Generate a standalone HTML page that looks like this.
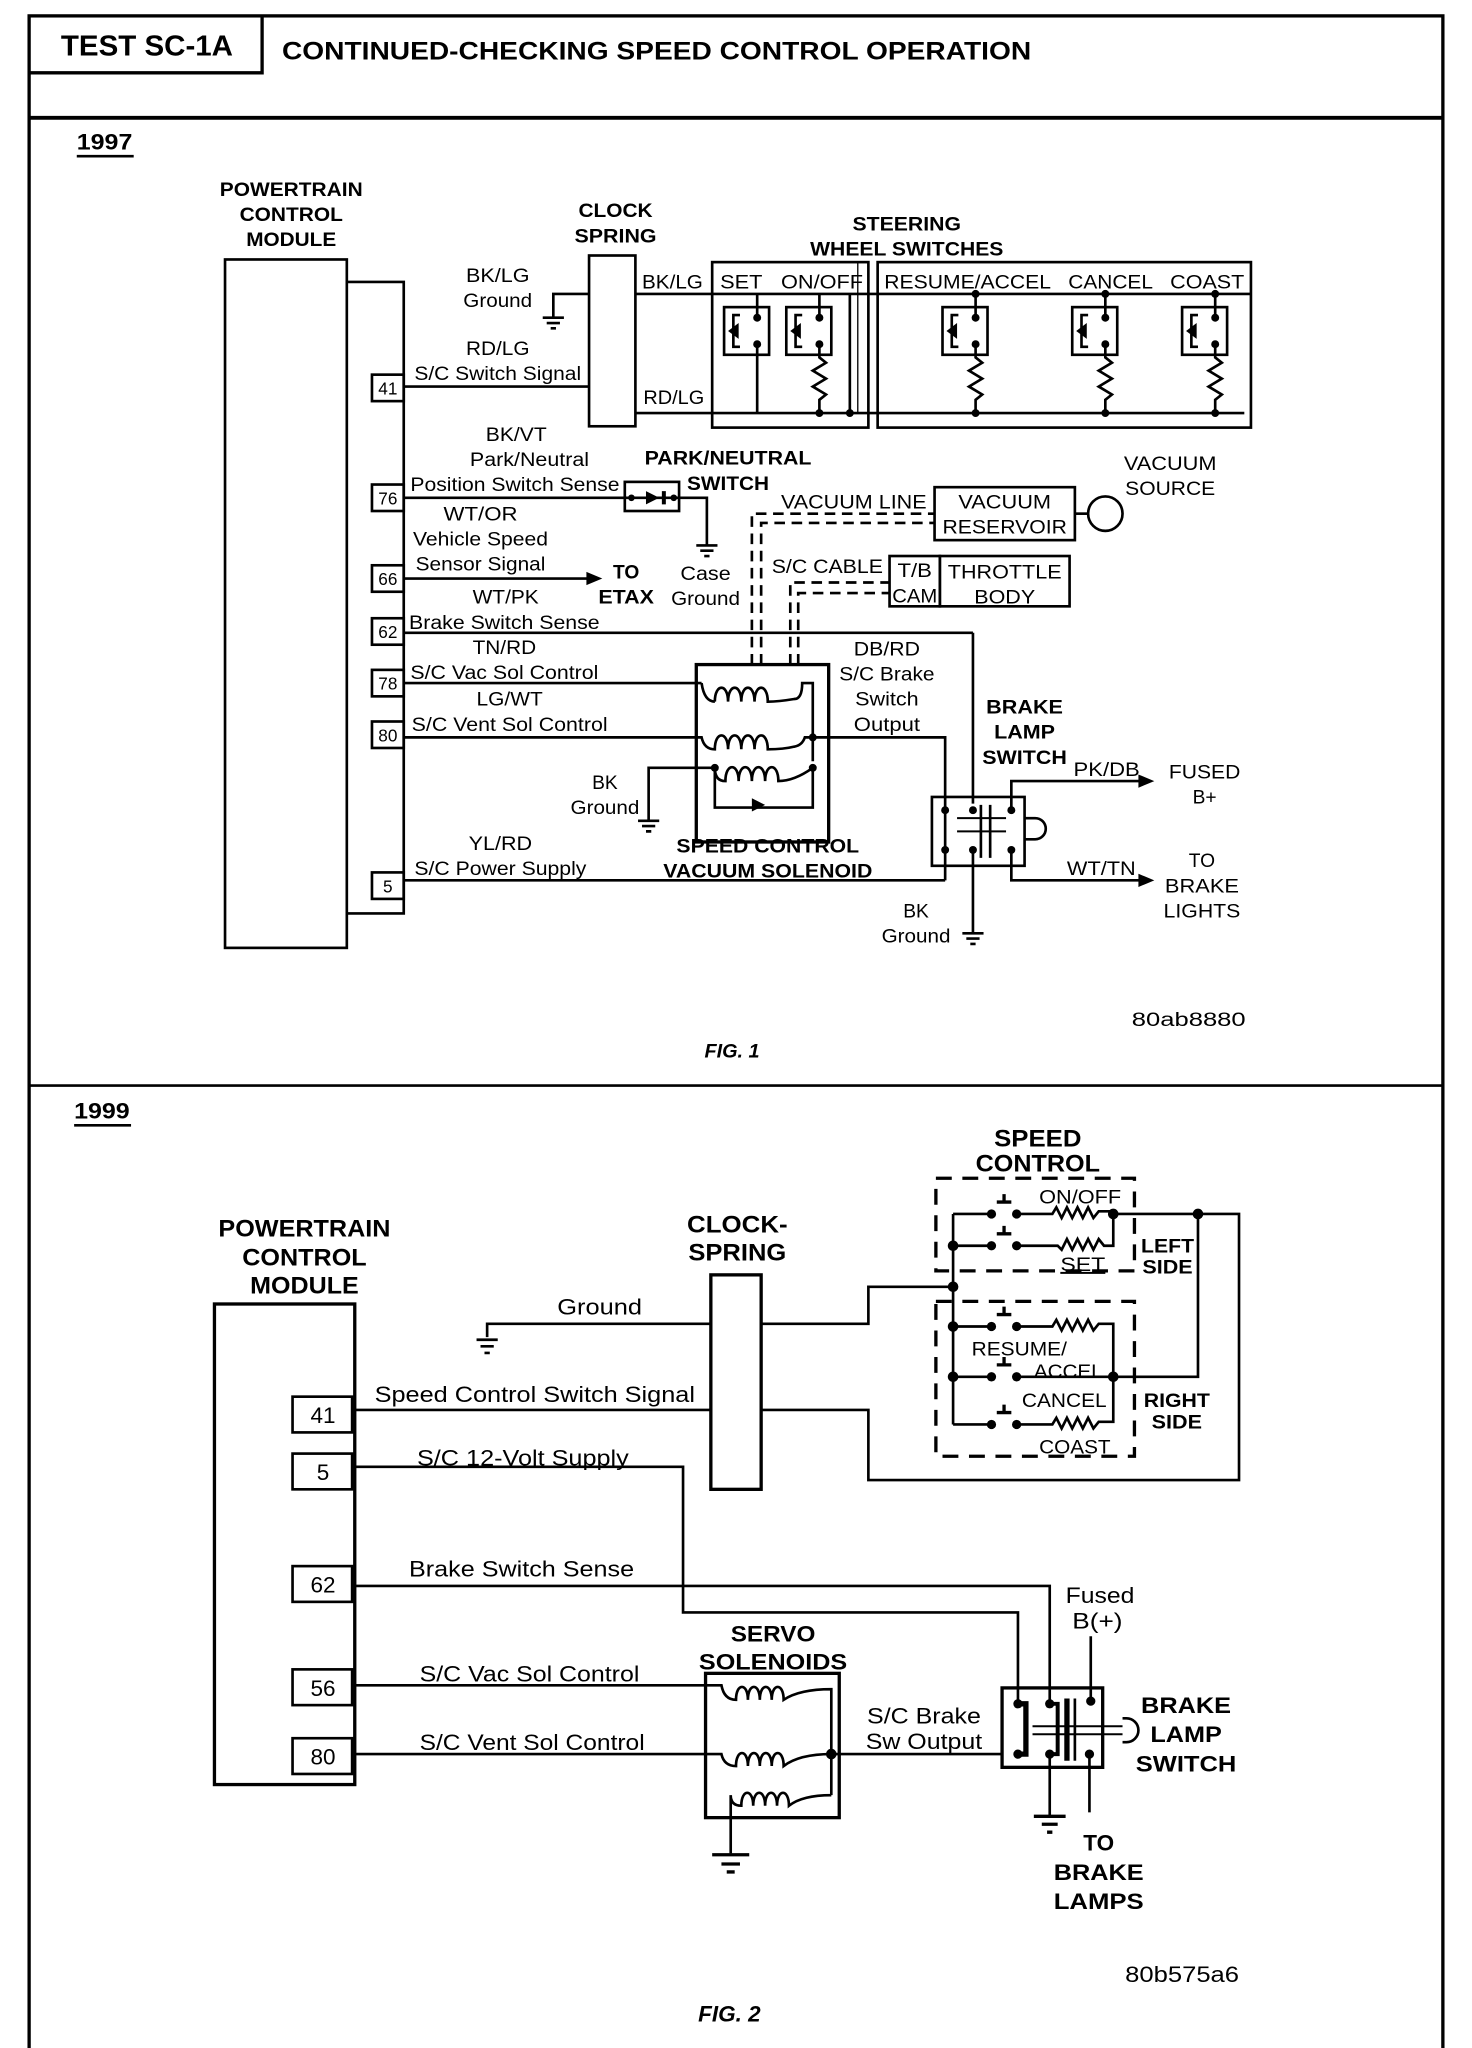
<!DOCTYPE html>
<html><head><meta charset="utf-8"><style>
html,body{margin:0;padding:0;background:#fff}
svg{display:block}
text{font-family:"Liberation Sans",sans-serif;fill:#000}
.b{font-weight:bold}
</style></head><body>
<svg width="1472" height="2048" viewBox="0 0 1112 1547" preserveAspectRatio="none" xmlns="http://www.w3.org/2000/svg">
<rect width="1112" height="1547" fill="#fff"/>
<g fill="none" stroke="#000" stroke-width="2">
<!-- frame -->
<rect x="22" y="12" width="1068" height="1538" stroke-width="2.5"/>
<line x1="22" y1="89" x2="1090" y2="89" stroke-width="3"/>
<line x1="22" y1="820" x2="1090" y2="820" stroke-width="2"/>
<path d="M22 55 H198 V12" stroke-width="2.5"/>
</g>
<text x="46" y="42" class="b" font-size="22" textLength="130" lengthAdjust="spacingAndGlyphs">TEST SC-1A</text>
<text x="213" y="45" class="b" font-size="19" textLength="566" lengthAdjust="spacingAndGlyphs">CONTINUED-CHECKING SPEED CONTROL OPERATION</text>
<text x="58" y="113" class="b" font-size="17" textLength="42" lengthAdjust="spacingAndGlyphs">1997</text>
<line x1="58" y1="118" x2="101" y2="118" stroke="#000" stroke-width="2"/>

<!-- ========== FIG 1 ========== -->
<g fill="none" stroke="#000" stroke-width="2">
<rect x="170" y="196" width="92" height="520"/>
<path d="M262 213 H305 V690 H262"/>
<rect x="281" y="283" width="24" height="20"/>
<rect x="281" y="366" width="24" height="20"/>
<rect x="281" y="427" width="24" height="20"/>
<rect x="281" y="467" width="24" height="20"/>
<rect x="281" y="506" width="24" height="20"/>
<rect x="281" y="545" width="24" height="20"/>
<rect x="281" y="659" width="24" height="20"/>
<!-- clock spring -->
<rect x="445" y="193" width="35" height="129"/>
<path d="M445 222 H418 V240"/>
<path d="M410 240 H426 M413 244 H423 M416 248 H420"/>
<line x1="305" y1="292" x2="445" y2="292"/>
<line x1="480" y1="222" x2="945" y2="222"/>
<line x1="480" y1="312" x2="940" y2="312"/>
<!-- steering boxes -->
<rect x="538" y="198" width="118" height="125"/>
<rect x="663" y="198" width="282" height="125"/>
<line x1="642" y1="222" x2="642" y2="312"/>
<line x1="648" y1="198" x2="648" y2="312" stroke-width="1"/>
</g>
<g fill="#000"><circle cx="642" cy="312" r="3"/></g>
<!-- switch units -->
<g fill="none" stroke="#000" stroke-width="2">
<g transform="translate(547,232)"><rect width="34" height="36"/><path d="M12 6 H7 V30 H12"/><line x1="25" y1="-10" x2="25" y2="8"/><line x1="25" y1="28" x2="25" y2="80"/></g>
<g transform="translate(594,232)"><rect width="34" height="36"/><path d="M12 6 H7 V30 H12"/><line x1="25" y1="-10" x2="25" y2="8"/><path d="M25 28 V38 l5 4 -10 6 10 6 -10 6 10 6 -5 4 V80"/></g>
<g transform="translate(712,232)"><rect width="34" height="36"/><path d="M12 6 H7 V30 H12"/><line x1="25" y1="-10" x2="25" y2="8"/><path d="M25 28 V38 l5 4 -10 6 10 6 -10 6 10 6 -5 4 V80"/></g>
<g transform="translate(810,232)"><rect width="34" height="36"/><path d="M12 6 H7 V30 H12"/><line x1="25" y1="-10" x2="25" y2="8"/><path d="M25 28 V38 l5 4 -10 6 10 6 -10 6 10 6 -5 4 V80"/></g>
<g transform="translate(893,232)"><rect width="34" height="36"/><path d="M12 6 H7 V30 H12"/><line x1="25" y1="-10" x2="25" y2="8"/><path d="M25 28 V38 l5 4 -10 6 10 6 -10 6 10 6 -5 4 V80"/></g>
</g>
<g fill="#000">
<g transform="translate(547,232)"><circle cx="25" cy="8" r="3"/><circle cx="25" cy="28" r="3"/><path d="M3 18 L11 12 V24Z"/></g>
<g transform="translate(594,232)"><circle cx="25" cy="8" r="3"/><circle cx="25" cy="28" r="3"/><circle cx="25" cy="80" r="3"/><path d="M3 18 L11 12 V24Z"/></g>
<g transform="translate(712,232)"><circle cx="25" cy="8" r="3"/><circle cx="25" cy="28" r="3"/><circle cx="25" cy="80" r="3"/><circle cx="25" cy="-10" r="3"/><path d="M3 18 L11 12 V24Z"/></g>
<g transform="translate(810,232)"><circle cx="25" cy="8" r="3"/><circle cx="25" cy="28" r="3"/><circle cx="25" cy="80" r="3"/><circle cx="25" cy="-10" r="3"/><path d="M3 18 L11 12 V24Z"/></g>
<g transform="translate(893,232)"><circle cx="25" cy="8" r="3"/><circle cx="25" cy="28" r="3"/><circle cx="25" cy="80" r="3"/><circle cx="25" cy="-10" r="3"/><path d="M3 18 L11 12 V24Z"/></g>
</g>
<!-- park neutral -->
<g fill="none" stroke="#000" stroke-width="2">
<line x1="305" y1="376" x2="472" y2="376"/>
<rect x="472" y="364" width="41" height="22"/>
<path d="M472 376 H534 V412"/>
<path d="M526 412 H542 M529 416 H539 M532 420 H536"/>
<line x1="305" y1="437" x2="447" y2="437"/>
<line x1="305" y1="478" x2="735" y2="478"/>
<line x1="735" y1="478" x2="735" y2="607"/>
<!-- solenoid -->
<rect x="526" y="502" width="100" height="134" stroke-width="2.5"/>
<path d="M305 516 H530 M530 516 Q532 530 540 530 M540 530 c0-14 10-14 10 0 c0-14 10-14 10 0 c0-14 10-14 10 0 c0-14 10-14 10 0 Q588 530 600 528 Q606 528 606 516 H614 V575"/>
<path d="M305 557 H530 Q532 566 540 566 c0-14 10-14 10 0 c0-14 10-14 10 0 c0-14 10-14 10 0 c0-14 10-14 10 0 Q592 566 600 564 Q606 563 608 557 H714 V610"/>
<path d="M540 580 Q540 590 548 590 c0-14 10-14 10 0 c0-14 10-14 10 0 c0-14 10-14 10 0 c0-14 10-14 10 0 Q600 590 614 580"/>
<path d="M540 580 V610 H614 V580"/>
<path d="M540 580 H490 V620"/>
<path d="M482 620 H498 M485 624 H495 M488 628 H492"/>
<line x1="305" y1="665" x2="714" y2="665"/>
<line x1="714" y1="665" x2="714" y2="640"/>
<!-- vacuum dashed -->
<path d="M568 502 V388 H706" stroke-dasharray="8 5"/>
<path d="M575 502 V395 H706" stroke-dasharray="8 5"/>
<path d="M597 502 V440 H672" stroke-dasharray="8 5"/>
<path d="M603 502 V448 H672" stroke-dasharray="8 5"/>
<rect x="706" y="368" width="106" height="40"/>
<line x1="812" y1="388" x2="822" y2="388"/>
<circle cx="835" cy="388" r="13"/>
<rect x="672" y="420" width="38" height="38"/>
<rect x="710" y="420" width="98" height="38"/>
<!-- brake lamp switch -->
<rect x="704" y="602" width="70" height="52"/>
<path d="M714 610 V642"/>
<path d="M723 618 H760 M723 628 H760" stroke-width="1.5"/>
<path d="M741 608 V648 M748 608 V648" stroke-width="2"/>
<path d="M774 618 h8 a8 8 0 0 1 0 16 h-8"/>
<path d="M764 610 V590 H862"/>
<path d="M764 640 V665 H862"/>
<path d="M735 640 V705"/>
<path d="M727 705 H743 M730 709 H740 M733 713 H737"/>
</g>
<g fill="#000">
<path d="M455 437 L443 432 V442Z"/>
<path d="M498 376 L488 371 V381Z M500 371 h3 v10 h-3z"/>
<circle cx="477" cy="376" r="2.5"/><circle cx="509" cy="376" r="2.5"/>
<path d="M578 608 L568 603 V613Z"/>
<circle cx="614" cy="557" r="3"/><circle cx="614" cy="580" r="3"/><circle cx="540" cy="580" r="3"/>
<circle cx="714" cy="612" r="3"/><circle cx="735" cy="612" r="3"/><circle cx="764" cy="612" r="3"/>
<circle cx="714" cy="642" r="3"/><circle cx="735" cy="642" r="3"/><circle cx="764" cy="642" r="3"/>
<path d="M872 590 L860 585 V595Z"/><path d="M872 665 L860 660 V670Z"/>
</g>
<g font-size="14.5">
<text x="220" y="148" class="b" text-anchor="middle" font-size="15" textLength="108" lengthAdjust="spacingAndGlyphs">POWERTRAIN</text>
<text x="220" y="167" class="b" text-anchor="middle" font-size="15" textLength="78" lengthAdjust="spacingAndGlyphs">CONTROL</text>
<text x="220" y="186" class="b" text-anchor="middle" font-size="15" textLength="68" lengthAdjust="spacingAndGlyphs">MODULE</text>
<text x="465" y="164" class="b" text-anchor="middle" font-size="15" textLength="56" lengthAdjust="spacingAndGlyphs">CLOCK</text>
<text x="465" y="183" class="b" text-anchor="middle" font-size="15" textLength="62" lengthAdjust="spacingAndGlyphs">SPRING</text>
<text x="685" y="174" class="b" text-anchor="middle" font-size="15" textLength="82" lengthAdjust="spacingAndGlyphs">STEERING</text>
<text x="685" y="193" class="b" text-anchor="middle" font-size="15" textLength="146" lengthAdjust="spacingAndGlyphs">WHEEL SWITCHES</text>
<text x="376" y="213" text-anchor="middle" textLength="48" lengthAdjust="spacingAndGlyphs">BK/LG</text>
<text x="376" y="232" text-anchor="middle" textLength="52" lengthAdjust="spacingAndGlyphs">Ground</text>
<text x="376" y="268" text-anchor="middle" textLength="48" lengthAdjust="spacingAndGlyphs">RD/LG</text>
<text x="376" y="287" text-anchor="middle" textLength="126" lengthAdjust="spacingAndGlyphs">S/C Switch Signal</text>
<text x="508" y="218" text-anchor="middle" textLength="46" lengthAdjust="spacingAndGlyphs">BK/LG</text>
<text x="509" y="305" text-anchor="middle" textLength="46" lengthAdjust="spacingAndGlyphs">RD/LG</text>
<text x="544" y="218" textLength="32" lengthAdjust="spacingAndGlyphs">SET</text>
<text x="590" y="218" textLength="62" lengthAdjust="spacingAndGlyphs">ON/OFF</text>
<text x="668" y="218" textLength="126" lengthAdjust="spacingAndGlyphs">RESUME/ACCEL</text>
<text x="807" y="218" textLength="64" lengthAdjust="spacingAndGlyphs">CANCEL</text>
<text x="884" y="218" textLength="56" lengthAdjust="spacingAndGlyphs">COAST</text>
<text x="293" y="298" text-anchor="middle" font-size="13">41</text>
<text x="293" y="381" text-anchor="middle" font-size="13">76</text>
<text x="293" y="442" text-anchor="middle" font-size="13">66</text>
<text x="293" y="482" text-anchor="middle" font-size="13">62</text>
<text x="293" y="521" text-anchor="middle" font-size="13">78</text>
<text x="293" y="560" text-anchor="middle" font-size="13">80</text>
<text x="293" y="674" text-anchor="middle" font-size="13">5</text>
<text x="390" y="333" text-anchor="middle" textLength="46" lengthAdjust="spacingAndGlyphs">BK/VT</text>
<text x="400" y="352" text-anchor="middle" textLength="90" lengthAdjust="spacingAndGlyphs">Park/Neutral</text>
<text x="389" y="371" text-anchor="middle" textLength="158" lengthAdjust="spacingAndGlyphs">Position Switch Sense</text>
<text x="550" y="351" class="b" text-anchor="middle" textLength="126" lengthAdjust="spacingAndGlyphs">PARK/NEUTRAL</text>
<text x="550" y="370" class="b" text-anchor="middle" textLength="62" lengthAdjust="spacingAndGlyphs">SWITCH</text>
<text x="363" y="393" text-anchor="middle" textLength="56" lengthAdjust="spacingAndGlyphs">WT/OR</text>
<text x="363" y="412" text-anchor="middle" textLength="102" lengthAdjust="spacingAndGlyphs">Vehicle Speed</text>
<text x="363" y="431" text-anchor="middle" textLength="98" lengthAdjust="spacingAndGlyphs">Sensor Signal</text>
<text x="473" y="437" class="b" text-anchor="middle">TO</text>
<text x="473" y="456" class="b" text-anchor="middle" textLength="42" lengthAdjust="spacingAndGlyphs">ETAX</text>
<text x="533" y="438" text-anchor="middle" textLength="38" lengthAdjust="spacingAndGlyphs">Case</text>
<text x="533" y="457" text-anchor="middle" textLength="52" lengthAdjust="spacingAndGlyphs">Ground</text>
<text x="382" y="456" text-anchor="middle" textLength="50" lengthAdjust="spacingAndGlyphs">WT/PK</text>
<text x="381" y="475" text-anchor="middle" textLength="144" lengthAdjust="spacingAndGlyphs">Brake Switch Sense</text>
<text x="381" y="494" text-anchor="middle" textLength="48" lengthAdjust="spacingAndGlyphs">TN/RD</text>
<text x="381" y="513" text-anchor="middle" textLength="142" lengthAdjust="spacingAndGlyphs">S/C Vac Sol Control</text>
<text x="385" y="533" text-anchor="middle" textLength="50" lengthAdjust="spacingAndGlyphs">LG/WT</text>
<text x="385" y="552" text-anchor="middle" textLength="148" lengthAdjust="spacingAndGlyphs">S/C Vent Sol Control</text>
<text x="645" y="384" text-anchor="middle" textLength="110" lengthAdjust="spacingAndGlyphs">VACUUM LINE</text>
<text x="759" y="384" text-anchor="middle" textLength="70" lengthAdjust="spacingAndGlyphs">VACUUM</text>
<text x="759" y="403" text-anchor="middle" textLength="94" lengthAdjust="spacingAndGlyphs">RESERVOIR</text>
<text x="884" y="355" text-anchor="middle" textLength="70" lengthAdjust="spacingAndGlyphs">VACUUM</text>
<text x="884" y="374" text-anchor="middle" textLength="68" lengthAdjust="spacingAndGlyphs">SOURCE</text>
<text x="625" y="433" text-anchor="middle" textLength="84" lengthAdjust="spacingAndGlyphs">S/C CABLE</text>
<text x="691" y="436" text-anchor="middle" textLength="26" lengthAdjust="spacingAndGlyphs">T/B</text>
<text x="691" y="455" text-anchor="middle" textLength="34" lengthAdjust="spacingAndGlyphs">CAM</text>
<text x="759" y="437" text-anchor="middle" textLength="86" lengthAdjust="spacingAndGlyphs">THROTTLE</text>
<text x="759" y="456" text-anchor="middle" textLength="46" lengthAdjust="spacingAndGlyphs">BODY</text>
<text x="670" y="495" text-anchor="middle" textLength="50" lengthAdjust="spacingAndGlyphs">DB/RD</text>
<text x="670" y="514" text-anchor="middle" textLength="72" lengthAdjust="spacingAndGlyphs">S/C Brake</text>
<text x="670" y="533" text-anchor="middle" textLength="48" lengthAdjust="spacingAndGlyphs">Switch</text>
<text x="670" y="552" text-anchor="middle" textLength="50" lengthAdjust="spacingAndGlyphs">Output</text>
<text x="774" y="539" class="b" text-anchor="middle" textLength="58" lengthAdjust="spacingAndGlyphs">BRAKE</text>
<text x="774" y="558" class="b" text-anchor="middle" textLength="46" lengthAdjust="spacingAndGlyphs">LAMP</text>
<text x="774" y="577" class="b" text-anchor="middle" textLength="64" lengthAdjust="spacingAndGlyphs">SWITCH</text>
<text x="836" y="586" text-anchor="middle" textLength="50" lengthAdjust="spacingAndGlyphs">PK/DB</text>
<text x="910" y="588" text-anchor="middle" textLength="54" lengthAdjust="spacingAndGlyphs">FUSED</text>
<text x="910" y="607" text-anchor="middle">B+</text>
<text x="832" y="661" text-anchor="middle" textLength="52" lengthAdjust="spacingAndGlyphs">WT/TN</text>
<text x="908" y="655" text-anchor="middle">TO</text>
<text x="908" y="674" text-anchor="middle" textLength="56" lengthAdjust="spacingAndGlyphs">BRAKE</text>
<text x="908" y="693" text-anchor="middle" textLength="58" lengthAdjust="spacingAndGlyphs">LIGHTS</text>
<text x="692" y="693" text-anchor="middle">BK</text>
<text x="692" y="712" text-anchor="middle" textLength="52" lengthAdjust="spacingAndGlyphs">Ground</text>
<text x="457" y="596" text-anchor="middle">BK</text>
<text x="457" y="615" text-anchor="middle" textLength="52" lengthAdjust="spacingAndGlyphs">Ground</text>
<text x="378" y="642" text-anchor="middle" textLength="48" lengthAdjust="spacingAndGlyphs">YL/RD</text>
<text x="378" y="661" text-anchor="middle" textLength="130" lengthAdjust="spacingAndGlyphs">S/C Power Supply</text>
<text x="580" y="644" class="b" text-anchor="middle" textLength="138" lengthAdjust="spacingAndGlyphs">SPEED CONTROL</text>
<text x="580" y="663" class="b" text-anchor="middle" textLength="158" lengthAdjust="spacingAndGlyphs">VACUUM SOLENOID</text>
<text x="898" y="775" text-anchor="middle" font-size="15" textLength="86" lengthAdjust="spacingAndGlyphs">80ab8880</text>
<text x="553" y="799" class="b" font-style="italic" text-anchor="middle" font-size="15">FIG. 1</text>
</g>

<!-- ========== FIG 2 ========== -->
<text x="56" y="845" class="b" font-size="17" textLength="42" lengthAdjust="spacingAndGlyphs">1999</text>
<line x1="56" y1="850" x2="99" y2="850" stroke="#000" stroke-width="2"/>
<g fill="none" stroke="#000" stroke-width="2">
<rect x="162" y="985" width="106" height="363" stroke-width="2.5"/>
<rect x="221" y="1055" width="45" height="27"/>
<rect x="221" y="1098" width="45" height="27"/>
<rect x="221" y="1183" width="45" height="27"/>
<rect x="221" y="1261" width="45" height="27"/>
<rect x="221" y="1313" width="45" height="27"/>
<rect x="537" y="963" width="38" height="162" stroke-width="2.5"/>
<path d="M537 1000 H368 V1010"/>
<path d="M360 1012 H376 M363 1017 H373 M366 1022 H370"/>
<line x1="268" y1="1065" x2="537" y2="1065"/>
<path d="M268 1108 H516 V1218 H769 V1287"/>
<path d="M268 1198 H793 V1287"/>
<path d="M268 1273 H533"/>
<path d="M268 1325 H533"/>
<!-- clock spring right -->
<path d="M575 1000 H656 V972 H720"/>
<path d="M575 1065 H656 V1118 H936 V917 H841"/>
<!-- speed control dashed boxes -->
<rect x="707" y="890" width="150" height="70" stroke-dasharray="12 8" stroke-width="2.5"/>
<rect x="707" y="983" width="150" height="117" stroke-dasharray="12 8" stroke-width="2.5"/>
<!-- bus -->
<line x1="720" y1="917" x2="720" y2="1076"/>
<path d="M720 917 H749 M768 917 H795 l3 -5 4 8 4 -8 4 8 4 -8 4 8 4 -8 4 8 4 -5 H841 V941 H834 l-4 -5 -4 8 -4 -8 -4 8 -4 -8 -4 8 -4 -8 -4 8 -3 -3 H768 M749 941 H720"/>
<path d="M720 1002 H749 M768 1002 H795 l3 -5 4 8 4 -8 4 8 4 -8 4 8 4 -8 4 8 4 -5 H841 V1040 H905 V917"/>
<path d="M720 1040 H749 M768 1040 H841"/>
<path d="M720 1076 H749 M768 1076 H795 l3 -5 4 8 4 -8 4 8 4 -8 4 8 4 -8 4 8 4 -5 H841 V1040"/>
<path d="M753 908 H764 M758.5 908 V902 M753 932 H764 M758.5 932 V926 M753 993 H764 M758.5 993 V987 M753 1031 H764 M758.5 1031 V1025 M753 1067 H764 M758.5 1067 V1061" stroke-width="2.5"/>
<!-- servo solenoids -->
<rect x="533" y="1264" width="101" height="109" stroke-width="2.5"/>
<path d="M533 1273 H545 Q547 1284 556 1284 c0-13 9-13 9 0 c0-13 9-13 9 0 c0-13 9-13 9 0 c0-13 9-13 9 0 Q604 1276 628 1276 V1356"/>
<path d="M533 1325 H545 Q547 1334 556 1334 c0-13 9-13 9 0 c0-13 9-13 9 0 c0-13 9-13 9 0 c0-13 9-13 9 0 Q604 1325 628 1325 H757"/>
<path d="M552 1400 V1356 Q552 1364 560 1364 c0-13 9-13 9 0 c0-13 9-13 9 0 c0-13 9-13 9 0 c0-13 9-13 9 0 Q606 1356 628 1356"/>
<path d="M538 1401 H566 M545 1408 H559 M549 1414 H555" stroke-width="2.5"/>
<!-- brake lamp switch fig2 -->
<rect x="757" y="1275" width="76" height="60" stroke-width="2.5"/>
<path d="M769 1287 h6 v38 h-6" stroke-width="4"/>
<path d="M793 1287 h6 v38 h-6" stroke-width="3"/>
<path d="M806 1283 V1330" stroke-width="4"/>
<path d="M812 1283 V1330" stroke-width="2"/>
<path d="M780 1304 H848 M780 1310 H848" stroke-width="1.5"/>
<path d="M848 1298 h3 a9 9 0 0 1 0 18 h-3"/>
<path d="M824 1236 V1285"/>
<path d="M793 1325 V1371"/>
<path d="M781 1372 H805 M787 1378 H799 M791 1384 H795" stroke-width="2.5"/>
<path d="M823 1325 V1369"/>
</g>
<g fill="#000">
<circle cx="749" cy="917" r="3.5"/><circle cx="768" cy="917" r="3.5"/>
<circle cx="749" cy="941" r="3.5"/><circle cx="768" cy="941" r="3.5"/>
<circle cx="749" cy="1002" r="3.5"/><circle cx="768" cy="1002" r="3.5"/>
<circle cx="749" cy="1040" r="3.5"/><circle cx="768" cy="1040" r="3.5"/>
<circle cx="749" cy="1076" r="3.5"/><circle cx="768" cy="1076" r="3.5"/>
<circle cx="720" cy="941" r="4"/><circle cx="720" cy="972" r="4"/><circle cx="720" cy="1002" r="4"/><circle cx="720" cy="1040" r="4"/>
<circle cx="841" cy="917" r="4"/><circle cx="905" cy="917" r="4"/><circle cx="841" cy="1040" r="4"/>
<circle cx="628" cy="1325" r="4"/>
<circle cx="769" cy="1287" r="3.5"/><circle cx="793" cy="1287" r="3.5"/><circle cx="824" cy="1285" r="3.5"/>
<circle cx="769" cy="1325" r="3.5"/><circle cx="793" cy="1325" r="3.5"/><circle cx="823" cy="1325" r="3.5"/>
</g>
<g font-size="17">
<text x="230" y="934" class="b" text-anchor="middle" font-size="18" textLength="130" lengthAdjust="spacingAndGlyphs">POWERTRAIN</text>
<text x="230" y="956" class="b" text-anchor="middle" font-size="18" textLength="94" lengthAdjust="spacingAndGlyphs">CONTROL</text>
<text x="230" y="977" class="b" text-anchor="middle" font-size="18" textLength="82" lengthAdjust="spacingAndGlyphs">MODULE</text>
<text x="557" y="931" class="b" text-anchor="middle" font-size="18" textLength="76" lengthAdjust="spacingAndGlyphs">CLOCK-</text>
<text x="557" y="952" class="b" text-anchor="middle" font-size="18" textLength="74" lengthAdjust="spacingAndGlyphs">SPRING</text>
<text x="784" y="866" class="b" text-anchor="middle" font-size="18" textLength="66" lengthAdjust="spacingAndGlyphs">SPEED</text>
<text x="784" y="885" class="b" text-anchor="middle" font-size="18" textLength="94" lengthAdjust="spacingAndGlyphs">CONTROL</text>
<text x="453" y="993" text-anchor="middle" textLength="64" lengthAdjust="spacingAndGlyphs">Ground</text>
<text x="404" y="1059" text-anchor="middle" textLength="242" lengthAdjust="spacingAndGlyphs">Speed Control Switch Signal</text>
<text x="395" y="1107" text-anchor="middle" textLength="160" lengthAdjust="spacingAndGlyphs">S/C 12-Volt Supply</text>
<text x="394" y="1191" text-anchor="middle" textLength="170" lengthAdjust="spacingAndGlyphs">Brake Switch Sense</text>
<text x="400" y="1270" text-anchor="middle" textLength="166" lengthAdjust="spacingAndGlyphs">S/C Vac Sol Control</text>
<text x="402" y="1322" text-anchor="middle" textLength="170" lengthAdjust="spacingAndGlyphs">S/C Vent Sol Control</text>
<text x="244" y="1075" text-anchor="middle">41</text>
<text x="244" y="1118" text-anchor="middle">5</text>
<text x="244" y="1203" text-anchor="middle">62</text>
<text x="244" y="1281" text-anchor="middle">56</text>
<text x="244" y="1333" text-anchor="middle">80</text>
<text x="584" y="1240" class="b" text-anchor="middle" textLength="64" lengthAdjust="spacingAndGlyphs">SERVO</text>
<text x="584" y="1261" class="b" text-anchor="middle" textLength="112" lengthAdjust="spacingAndGlyphs">SOLENOIDS</text>
<text x="698" y="1302" text-anchor="middle" textLength="86" lengthAdjust="spacingAndGlyphs">S/C Brake</text>
<text x="698" y="1321" text-anchor="middle" textLength="88" lengthAdjust="spacingAndGlyphs">Sw Output</text>
<text x="831" y="1211" text-anchor="middle" textLength="52" lengthAdjust="spacingAndGlyphs">Fused</text>
<text x="829" y="1230" text-anchor="middle" textLength="38" lengthAdjust="spacingAndGlyphs">B(+)</text>
<text x="896" y="1294" class="b" text-anchor="middle" textLength="68" lengthAdjust="spacingAndGlyphs">BRAKE</text>
<text x="896" y="1316" class="b" text-anchor="middle" textLength="54" lengthAdjust="spacingAndGlyphs">LAMP</text>
<text x="896" y="1338" class="b" text-anchor="middle" textLength="76" lengthAdjust="spacingAndGlyphs">SWITCH</text>
<text x="830" y="1398" class="b" text-anchor="middle">TO</text>
<text x="830" y="1420" class="b" text-anchor="middle" textLength="68" lengthAdjust="spacingAndGlyphs">BRAKE</text>
<text x="830" y="1442" class="b" text-anchor="middle" textLength="68" lengthAdjust="spacingAndGlyphs">LAMPS</text>
<text x="816" y="909" text-anchor="middle" font-size="15" textLength="62" lengthAdjust="spacingAndGlyphs">ON/OFF</text>
<text x="818" y="960" text-anchor="middle" font-size="15" textLength="34" lengthAdjust="spacingAndGlyphs" text-decoration="underline">SET</text>
<text x="882" y="946" class="b" text-anchor="middle" font-size="15" textLength="40" lengthAdjust="spacingAndGlyphs">LEFT</text>
<text x="882" y="962" class="b" text-anchor="middle" font-size="15" textLength="38" lengthAdjust="spacingAndGlyphs">SIDE</text>
<text x="889" y="1063" class="b" text-anchor="middle" font-size="15" textLength="50" lengthAdjust="spacingAndGlyphs">RIGHT</text>
<text x="889" y="1079" class="b" text-anchor="middle" font-size="15" textLength="38" lengthAdjust="spacingAndGlyphs">SIDE</text>
<text x="770" y="1024" text-anchor="middle" font-size="15" textLength="72" lengthAdjust="spacingAndGlyphs">RESUME/</text>
<text x="807" y="1041" text-anchor="middle" font-size="15" textLength="52" lengthAdjust="spacingAndGlyphs">ACCEL</text>
<text x="804" y="1063" text-anchor="middle" font-size="15" textLength="64" lengthAdjust="spacingAndGlyphs">CANCEL</text>
<text x="812" y="1098" text-anchor="middle" font-size="15" textLength="54" lengthAdjust="spacingAndGlyphs">COAST</text>
<text x="893" y="1497" text-anchor="middle" textLength="86" lengthAdjust="spacingAndGlyphs">80b575a6</text>
<text x="551" y="1527" class="b" font-style="italic" text-anchor="middle">FIG. 2</text>
</g>
</svg>
</body></html>
